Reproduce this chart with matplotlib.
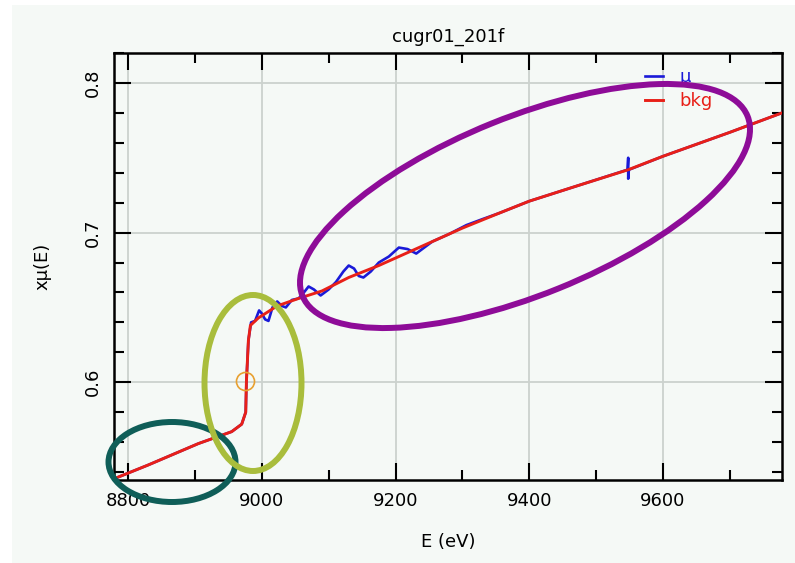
#!/usr/bin/env python3
"""Recreate the XAFS background-fit plot (mu and bkg vs energy) with the three highlight ellipses."""
import matplotlib
matplotlib.use("Agg")
import matplotlib.pyplot as plt
from matplotlib.patches import Ellipse, Rectangle
from matplotlib.transforms import IdentityTransform
from matplotlib.ticker import MultipleLocator

# ---- data ----
E_BKG = [8779, 8830, 8905, 8955, 8970, 8976, 8977, 8980, 8983, 8995, 9023, 9055, 9090,
         9130, 9175, 9230, 9300, 9355, 9400, 9470, 9548, 9600, 9700, 9778]
BKG = [0.5355, 0.5447, 0.559, 0.567, 0.572, 0.580, 0.600, 0.628, 0.638, 0.643, 0.651, 0.656, 0.661,
       0.670, 0.678, 0.689, 0.703, 0.713, 0.721, 0.731, 0.742, 0.751, 0.767, 0.780]

E_MU = [8779, 8830, 8905, 8955, 8970, 8976, 8977, 8980, 8984, 8990, 8996, 9000, 9005, 9010,
        9016, 9023, 9030, 9036, 9045, 9055, 9063, 9070, 9078, 9088, 9100, 9111, 9122, 9130,
        9138, 9145, 9152, 9163, 9175, 9190, 9205, 9218, 9231, 9243, 9255, 9280, 9306, 9330,
        9355, 9400, 9470, 9547, 9548, 9548, 9549, 9600, 9700, 9778]
MU = [0.5355, 0.5447, 0.559, 0.567, 0.572, 0.580, 0.600, 0.628, 0.640, 0.641, 0.648, 0.646, 0.642, 0.641,
      0.650, 0.654, 0.651, 0.650, 0.655, 0.656, 0.660, 0.664, 0.662, 0.658, 0.662, 0.667, 0.674, 0.678,
      0.676, 0.671, 0.670, 0.674, 0.680, 0.684, 0.690, 0.689, 0.686, 0.690, 0.694, 0.699, 0.705, 0.709,
      0.713, 0.721, 0.731, 0.742, 0.750, 0.736, 0.742, 0.751, 0.767, 0.780]

E0 = (8975, 0.601)
TITLE = "cugr01_201f"
XLABEL = "E (eV)"
YLABEL = "xμ(E)"
XTICKS = [8800, 9000, 9200, 9400, 9600]
YTICKS = [0.6, 0.7, 0.8]

# highlight ellipses in image pixels: (cx, cy, w, h, angle, colour)
ELLIPSES = [(172, 462, 127, 80, 0, "#0f5e58"),
            (253, 383, 97, 176, 0, "#a9bd3c"),
            (525, 206, 480, 178, 22, "#8e0c98")]

W, H = 795, 563
PANEL = "#f5f9f6"

fig = plt.figure(figsize=(W / 100, H / 100), dpi=100, facecolor="white")
fig.patches.append(Rectangle((12, 0), W - 12, H - 5, transform=IdentityTransform(),
                             facecolor=PANEL, edgecolor="none", zorder=-1))
ax = fig.add_axes([114 / W, (H - 480) / H, (782 - 114) / W, (480 - 53) / H])
ax.set_facecolor(PANEL)

ax.plot(E_MU, MU, color="#1a1ad8", lw=1.9, label="μ", zorder=3)
ax.plot(E_BKG, BKG, color="#e82018", lw=2.1, label="bkg", zorder=4)
ax.plot(*E0, "o", ms=13, mfc="none", mec="#e8a030", mew=1.2, zorder=5)

ax.set_xlim(8779, 9778)
ax.set_ylim(0.5347, 0.82)
ax.set_xticks(XTICKS)
ax.set_yticks(YTICKS)
ax.xaxis.set_minor_locator(MultipleLocator(100))
ax.yaxis.set_minor_locator(MultipleLocator(0.02))
ax.tick_params(which="both", direction="in", top=True, right=True, width=1.5, labelsize=13)
ax.tick_params(which="major", length=12, pad=9)
ax.tick_params(which="minor", length=7)
for lab in ax.get_yticklabels():
    lab.set_rotation(90); lab.set_va("center")
for s in ax.spines.values():
    s.set_linewidth(1.8)
ax.grid(True, which="major", color="#ccd2ce", lw=1.3)
ax.set_axisbelow(True)

ax.set_title(TITLE, fontsize=13, pad=8)
ax.set_xlabel(XLABEL, fontsize=13, labelpad=16)
ax.set_ylabel(YLABEL, fontsize=13, labelpad=23)

leg = ax.legend(loc="upper right", bbox_to_anchor=(0.91, 0.985), frameon=False, fontsize=13,
                handlelength=1.0, handletextpad=0.9, labelspacing=0.3, borderpad=0)
for t, l in zip(leg.get_texts(), leg.get_lines()):
    t.set_color(l.get_color())

for cx, cy, w, h, ang, c in ELLIPSES:
    fig.patches.append(Ellipse((cx, H - cy), w, h, angle=ang, transform=IdentityTransform(),
                               facecolor="none", edgecolor=c, lw=4.3, zorder=10))

fig.savefig("out.png", dpi=100, facecolor=fig.get_facecolor())
